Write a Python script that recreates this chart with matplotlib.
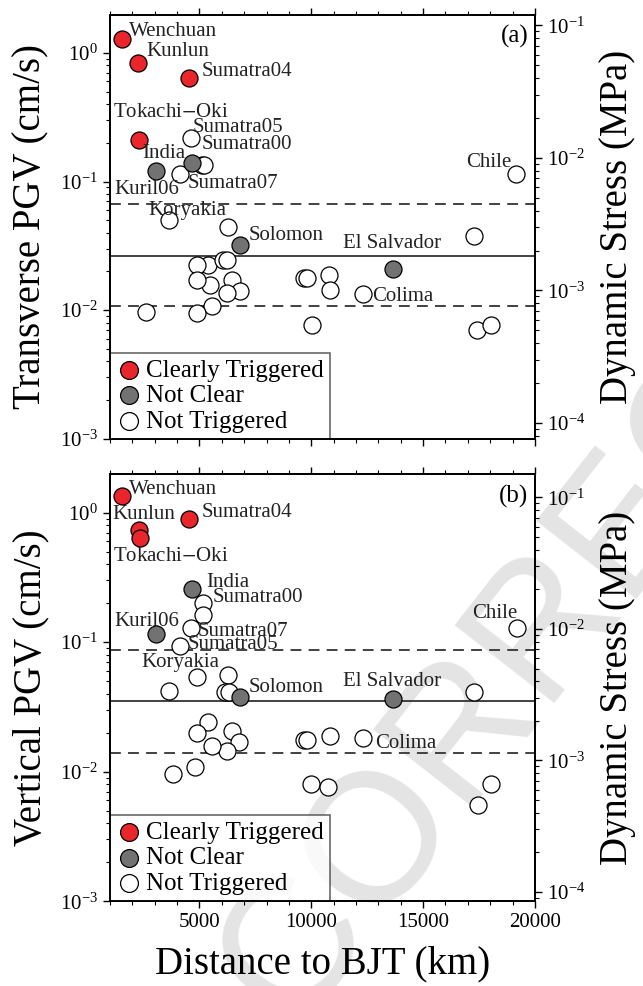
import numpy as np
import matplotlib.pyplot as plt

plt.rcParams['font.family'] = ['Liberation Serif', 'DejaVu Serif']
plt.rcParams['mathtext.fontset'] = 'stix'

# ---- panel (a): transverse PGV ----
ta_red_x = [1520, 2270, 4540, 2310]
ta_red_y = [1.28, 0.83, 0.643, 0.211]
ta_gray_x = [3050, 4670, 6820, 13640]
ta_gray_y = [0.121, 0.139, 0.0322, 0.021]
ta_open_x = [4610, 5100, 5200, 4130, 3650, 6270, 17270, 19170,
             5400, 6070, 6230, 5480, 6450, 6820, 6230, 5550, 2610, 4900, 4900, 4900,
             9660, 9810, 10780, 10850, 12320, 10030, 17420, 18020]
ta_open_y = [0.217, 0.134, 0.134, 0.115, 0.0498, 0.0447, 0.0374, 0.115,
             0.0225, 0.0246, 0.0246, 0.0157, 0.0172, 0.0140, 0.0136, 0.0108, 0.0097, 0.0095,
             0.0225, 0.0172,
             0.0178, 0.0178, 0.0188, 0.0144, 0.0134, 0.0077, 0.0070, 0.0076]
ta_mean = 0.0265
ta_lo, ta_hi = 0.0107, 0.0671

ta_names = ['Wenchuan', 'Kunlun', 'Sumatra04', 'Tokachi$-$Oki', 'Sumatra05', 'Sumatra00',
            'India', 'Sumatra07', 'Kuril06', 'Koryakia', 'Solomon', 'El Salvador',
            'Colima', 'Chile']
ta_lab_x = [1850, 2640, 5100, 1130, 4700, 5100, 2460, 4450, 1220, 2700, 7180, 11430, 12720, 16900]
ta_lab_y = [1.46, 1.02, 0.716, 0.344, 0.261, 0.193, 0.164, 0.096, 0.086, 0.060, 0.038, 0.0328,
            0.0127, 0.14]

# ---- panel (b): vertical PGV ----
tb_red_x = [1520, 2310, 2340, 4550]
tb_red_y = [1.35, 0.734, 0.633, 0.894]
tb_gray_x = [4690, 3060, 6820, 13640]
tb_gray_y = [0.259, 0.115, 0.0379, 0.0364]
tb_open_x = [5180, 5150, 4610, 4130, 4880, 6270, 6150, 6300, 3650, 17270, 19180,
             9660, 9810, 10850, 12320,
             5400, 6450, 6790, 6230, 5550, 4900,
             3800, 4780, 10000, 10750, 18020, 17450]
tb_open_y = [0.202, 0.161, 0.128, 0.0931, 0.0535, 0.0559, 0.041, 0.041, 0.0422, 0.0415, 0.128,
             0.0175, 0.0175, 0.0189, 0.0182,
             0.0240, 0.0207, 0.0170, 0.0145, 0.0158, 0.0200,
             0.00965, 0.0109, 0.00807, 0.0076, 0.00798, 0.00552]
tb_mean = 0.0353
tb_lo, tb_hi = 0.0140, 0.0878

tb_names = ['Wenchuan', 'Kunlun', 'Sumatra04', 'Tokachi$-$Oki', 'India', 'Sumatra00',
            'Kuril06', 'Sumatra07', 'Sumatra05', 'Koryakia', 'Solomon', 'El Salvador',
            'Colima', 'Chile']
tb_lab_x = [1850, 1120, 5100, 1130, 5300, 5610, 1180, 4900, 4450, 2420, 7180, 11420, 12870, 17210]
tb_lab_y = [1.5, 0.96, 1.0, 0.462, 0.287, 0.223, 0.145, 0.122, 0.096, 0.070, 0.0448, 0.0499,
            0.0165, 0.167]

red = '#e8262b'
gray = '#727272'


def panel(ax, rx, ry, gx, gy, ox, oy, mean, lo, hi, names, lx, ly, ylab, tag, right_lim):
    ax.patch.set_alpha(0)
    ax.axhline(mean, color='#333333', lw=1.3)
    ax.axhline(lo, color='#333333', lw=1.3, ls=(0, (6, 4)))
    ax.axhline(hi, color='#333333', lw=1.3, ls=(0, (6, 4)))
    ax.scatter(ox, oy, s=150, facecolor='white', edgecolor='black', lw=0.9, zorder=3,
               label='Not Triggered')
    ax.scatter(gx, gy, s=150, facecolor=gray, edgecolor='black', lw=0.9, zorder=4,
               label='Not Clear')
    ax.scatter(rx, ry, s=150, facecolor=red, edgecolor='black', lw=0.9, zorder=5,
               label='Clearly Triggered')
    for n, x, y in zip(names, lx, ly):
        ax.text(x, y, n, fontsize=15, va='center', ha='left', color='#222222', zorder=6)
    ax.set_yscale('log')
    ax.set_xlim(1000, 20000)
    ax.set_ylim(1e-3, 1.98)
    ax.set_xticks([5000, 10000, 15000, 20000])
    ax.set_xticks(np.arange(1000, 20001, 1000), minor=True)
    ax.tick_params(axis='both', which='both', direction='out', top=True, labelsize=15)
    ax.tick_params(which='major', length=5, width=1)
    ax.tick_params(which='minor', length=3, width=0.8)
    ax.set_ylabel(ylab, fontsize=28, labelpad=8)
    ax.text(0.985, 0.975, tag, transform=ax.transAxes, fontsize=18, ha='right', va='top')
    for s in ax.spines.values():
        s.set_linewidth(1.3)
    h, l = ax.get_legend_handles_labels()
    leg = ax.legend(h[::-1], l[::-1], loc='lower left', fontsize=18, frameon=True,
                    fancybox=False, edgecolor='#444444', borderaxespad=0, handletextpad=0.2,
                    labelspacing=0.12, borderpad=0.25, handlelength=1.0, markerscale=1.05)
    leg.get_frame().set_linewidth(1.2)
    ax2 = ax.twinx()
    ax2.set_yscale('log')
    ax2.set_ylim(*right_lim)
    ax2.tick_params(axis='y', which='both', direction='out', labelsize=15)
    ax2.tick_params(which='major', length=5, width=1)
    ax2.tick_params(which='minor', length=3, width=0.8)
    ax2.set_ylabel('Dynamic Stress (MPa)', fontsize=28, labelpad=10)
    for s in ax2.spines.values():
        s.set_linewidth(1.3)
    return ax2


fig = plt.figure(figsize=(6.43, 9.86), dpi=100)
# faint "proof" watermark behind the panels
fig.text(0.46, -0.05, 'CORRECTED PROOF', fontsize=132, color='#e4e4e4', rotation=52,
         rotation_mode='anchor', ha='left', va='baseline', zorder=-1,
         family='Liberation Sans')

ax1 = fig.add_axes([0.171, 0.555, 0.661, 0.43])
panel(ax1, ta_red_x, ta_red_y, ta_gray_x, ta_gray_y, ta_open_x, ta_open_y,
      ta_mean, ta_lo, ta_hi, ta_names, ta_lab_x, ta_lab_y, 'Transverse PGV (cm/s)', '(a)',
      (7.6e-5, 0.12))
ax1.tick_params(labelbottom=False)

ax2 = fig.add_axes([0.171, 0.086, 0.661, 0.433])
panel(ax2, tb_red_x, tb_red_y, tb_gray_x, tb_gray_y, tb_open_x, tb_open_y,
      tb_mean, tb_lo, tb_hi, tb_names, tb_lab_x, tb_lab_y, 'Vertical PGV (cm/s)', '(b)',
      (8.5e-5, 0.15))
ax2.set_xlabel('Distance to BJT (km)', fontsize=28, labelpad=10)

fig.savefig('out.png', dpi=100)
